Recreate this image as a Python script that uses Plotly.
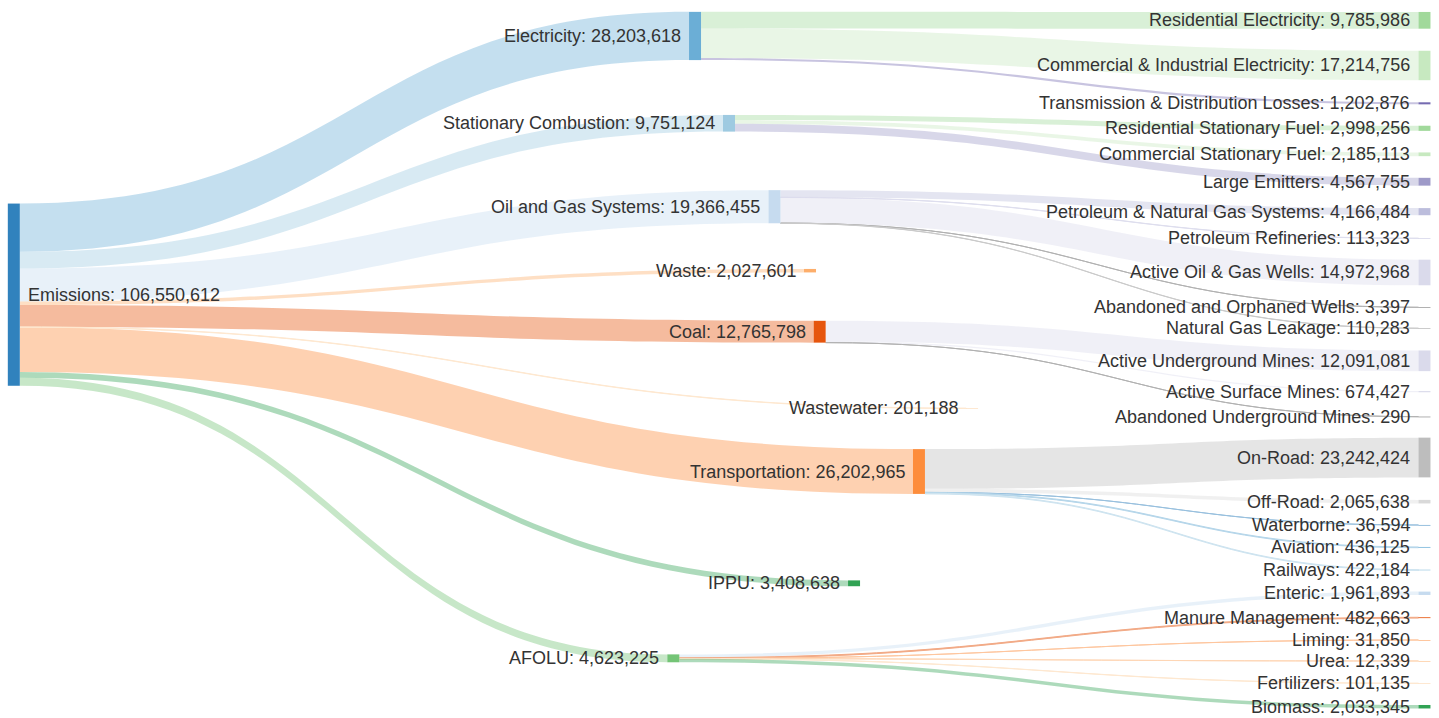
import plotly.graph_objects as go

# ---------------- data ----------------
root_name = "Emissions"

sector_names = ["Electricity", "Stationary Combustion", "Oil and Gas Systems", "Coal",
                "Transportation", "Waste", "Wastewater", "IPPU", "AFOLU"]
sector_values = [28203618, 9751124, 19366455, 12765798,
                 26202965, 2027601, 201188, 3408638, 4623225]

sub_parents = ["Electricity", "Electricity", "Electricity",
               "Stationary Combustion", "Stationary Combustion", "Stationary Combustion",
               "Oil and Gas Systems", "Oil and Gas Systems", "Oil and Gas Systems",
               "Oil and Gas Systems", "Oil and Gas Systems",
               "Coal", "Coal", "Coal",
               "Transportation", "Transportation", "Transportation", "Transportation", "Transportation",
               "AFOLU", "AFOLU", "AFOLU", "AFOLU", "AFOLU", "AFOLU"]
sub_names = ["Residential Electricity", "Commercial & Industrial Electricity",
             "Transmission & Distribution Losses",
             "Residential Stationary Fuel", "Commercial Stationary Fuel", "Large Emitters",
             "Petroleum & Natural Gas Systems", "Petroleum Refineries", "Active Oil & Gas Wells",
             "Abandoned and Orphaned Wells", "Natural Gas Leakage",
             "Active Underground Mines", "Active Surface Mines", "Abandoned Underground Mines",
             "On-Road", "Off-Road", "Waterborne", "Aviation", "Railways",
             "Enteric", "Manure Management", "Liming", "Urea", "Fertilizers", "Biomass"]
sub_values = [9785986, 17214756, 1202876,
              2998256, 2185113, 4567755,
              4166484, 113323, 14972968, 3397, 110283,
              12091081, 674427, 290,
              23242424, 2065638, 36594, 436125, 422184,
              1961893, 482663, 31850, 12339, 101135, 2033345]

# ---------------- layout / style ----------------
# node placement as fractions of the plot area (centre of each node, y from top)
node_place = {
    "Emissions": (0.0096, 0.4104),
    "Electricity": (0.4830, 0.0501),
    "Stationary Combustion": (0.5066, 0.1717),
    "Oil and Gas Systems": (0.5382, 0.2879),
    "Coal": (0.5696, 0.4620),
    "Transportation": (0.6386, 0.6567),
    "Waste": (0.5629, 0.3770),
    "Wastewater": (0.6755, 0.5687),
    "IPPU": (0.5935, 0.8124),
    "AFOLU": (0.4679, 0.9169),
}
right_x = 0.9899
right_y = [0.0283, 0.0912, 0.1439, 0.1787, 0.2149, 0.2531, 0.2948, 0.3319, 0.3795,
           0.4280, 0.4572, 0.5025, 0.5455, 0.5804, 0.6372, 0.6987, 0.7312, 0.7623,
           0.7939, 0.8263, 0.8603, 0.8914, 0.9206, 0.9517, 0.9843]
for nm, yy in zip(sub_names, right_y):
    node_place[nm] = (right_x, yy)

palette = ["#3182bd", "#6baed6", "#9ecae1", "#c6dbef", "#e6550d", "#fd8d3c", "#fdae6b", "#fdd0a2",
           "#31a354", "#74c476", "#a1d99b", "#c7e9c0", "#756bb1", "#9e9ac8", "#bcbddc", "#dadaeb",
           "#636363", "#969696", "#bdbdbd", "#d9d9d9"]

W, H = 1439, 718
PAD = 17
THICK = 12
LABEL_GAP = 6            # px between node edge and label box
PX_PER_UNIT = 1.71e-6    # target node scale (pixels per tonne)
LINK_ALPHA = 0.4
THIN_ALPHA = 0.5
FONT = "Liberation Sans, Arial, sans-serif"

# ---------------- build ----------------
nodes = [root_name] + sector_names + sub_names
idx = {n: i for i, n in enumerate(nodes)}

node_val = {root_name: sum(sector_values)}
for n, v in zip(sector_names, sector_values):
    node_val[n] = v
for n, v in zip(sub_names, sub_values):
    node_val[n] = v

# ordinal colour by first word of the name
key_order = []
for n in nodes:
    k = n.split(" ")[0]
    if k not in key_order:
        key_order.append(k)


def col(n):
    return palette[key_order.index(n.split(" ")[0]) % len(palette)]


def rgb(hexc):
    h = hexc.lstrip("#")
    return int(h[0:2], 16), int(h[2:4], 16), int(h[4:6], 16)


def rgba(hexc, a):
    r, g, b = rgb(hexc)
    return "rgba(%d,%d,%d,%.2f)" % (r, g, b, a)


def blend(hexc, a):
    # opaque equivalent of the colour at opacity a over white
    r, g, b = rgb(hexc)
    return "rgb(%d,%d,%d)" % tuple(round(255 - a * (255 - c)) for c in (r, g, b))


src, tgt, val = [], [], []
for n, v in zip(sector_names, sector_values):
    src.append(idx[root_name]); tgt.append(idx[n]); val.append(v)
for p, n, v in zip(sub_parents, sub_names, sub_values):
    src.append(idx[p]); tgt.append(idx[n]); val.append(v)

labels = [f"{n}: {node_val[n]:,}" for n in nodes]
node_colors = [col(n) for n in nodes]
# links under 1px are drawn by plotly as an opaque 1px stroke, so pre-blend them
link_colors = [blend(col(nodes[t]), THIN_ALPHA) if v * PX_PER_UNIT <= 1
               else rgba(col(nodes[t]), LINK_ALPHA) for t, v in zip(tgt, val)]
xs = [node_place[n][0] for n in nodes]
ys = [node_place[n][1] for n in nodes]

# Plotly caps total padding at 2/3 of the height, which forces large nodes.
# An invisible, unlabeled scaffold link widens the scale so nodes get the
# reference's thinner proportions.  It is fully transparent.
n_last_col = len(sub_names) + 3 + 1
scale_ballast = (H - (n_last_col - 1) * PAD) / PX_PER_UNIT - node_val[root_name]
hidden_a, hidden_b = len(nodes), len(nodes) + 1
src.append(hidden_a); tgt.append(hidden_b); val.append(scale_ballast)
link_colors.append("rgba(0,0,0,0)")
node_colors += ["rgba(0,0,0,0)", "rgba(0,0,0,0)"]
xs += [0.25, 0.30]
ys += [0.50, 0.50]
hover = labels + ["", ""]

fig = go.Figure(go.Sankey(
    arrangement="freeform",
    node=dict(
        label=["" for _ in hover],
        customdata=hover,
        color=node_colors,
        x=xs, y=ys,
        pad=PAD,
        thickness=THICK,
        line=dict(width=0),
        hovertemplate="%{customdata}<extra></extra>",
    ),
    link=dict(
        source=src, target=tgt, value=val,
        color=link_colors,
        hoverinfo="skip",
    ),
    textfont=dict(family=FONT, size=18, color="#333333"),
))

# visible node labels: root label to the right of its node, all others to the left
annotations = []
for n, lab in zip(nodes, labels):
    cx, cy = node_place[n]
    if n == root_name:
        ax = (cx * W + THICK / 2 + LABEL_GAP) / W
        anchor = "left"
    else:
        ax = (cx * W - THICK / 2 - LABEL_GAP) / W
        anchor = "right"
    annotations.append(dict(
        x=ax, y=1 - cy, xref="paper", yref="paper",
        text=lab, showarrow=False, xanchor=anchor, yanchor="middle",
        font=dict(family=FONT, size=18, color="#333333"),
    ))

fig.update_layout(
    width=W, height=H,
    margin=dict(l=0, r=0, t=0, b=0),
    paper_bgcolor="white",
    font=dict(family=FONT),
    annotations=annotations,
)

fig.write_html("out.html", config={"displayModeBar": False},
               post_script="document.body.style.margin='0px';")
